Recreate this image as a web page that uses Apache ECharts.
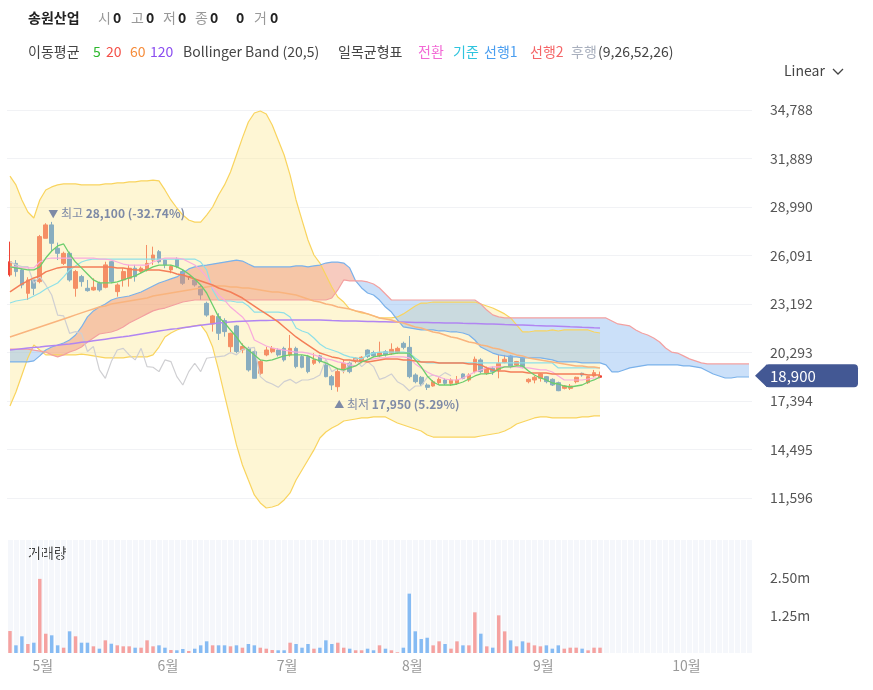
<!DOCTYPE html>
<html>
<head>
<meta charset="utf-8">
<title>송원산업</title>
<script src="https://cdn.jsdelivr.net/npm/echarts@6/dist/echarts.min.js"></script>
<style>
html,body{margin:0;padding:0;background:#fff;}
#chart{width:873px;height:690px;}
</style>
</head>
<body>
<div id="chart"></div>
<script>
// 100 trading days with data + 25 slots ahead for the ichimoku cloud
var dayCount = 125;
var categories = [];
for (var d = 0; d < dayCount; d++) categories.push("D" + d);

var monthTicks = [5, 26, 46, 67, 89, 113];
var monthNames = ["5월", "6월", "7월", "8월", "9월", "10월"];

var priceTicks = {min: 8697, max: 37687, step: 2899};
var volumeTicks = {min: 0, max: 3750000, step: 1250000};

var open = [24930,25620,25230,23830,24630,24530,27120,27920,26520,25620,
	26220,24130,24830,24130,24030,24430,24190,25720,23930,24630,
	24730,25330,25130,25230,25820,26320,25820,25230,25860,25130,
	24830,24630,24230,23230,22000,22440,22200,20640,21880,20450,
	20540,20340,19050,20150,20340,20440,20540,20150,20540,20050,
	20050,19650,20090,19550,18850,18250,19250,19650,19750,19750,
	20440,20290,20090,20340,20250,20290,20840,20600,18950,18810,
	18350,18290,18490,18650,18450,18450,19010,18650,19150,19850,
	19050,19350,19250,19690,20090,19550,19950,18550,18650,18750,
	18850,18690,18490,18150,18150,18550,19050,18490,18890,18810];
var close = [25720,25130,24330,24630,24130,27220,27920,26820,26220,26220,
	24630,25130,24530,23990,24190,24030,25530,24530,24330,25130,
	25330,24830,25330,25620,26120,25720,25530,25430,25430,24430,
	24830,24330,23730,22530,22480,21440,21540,21440,20350,20650,
	19250,18750,19750,20440,20540,20150,19850,20540,19450,19410,
	19150,19850,19750,18850,18350,19150,19650,19150,19950,20010,
	20050,20090,20290,20150,20480,20540,20600,18850,18550,18410,
	18210,18550,18690,18450,18650,18650,18750,18950,19890,19150,
	19350,19150,19650,19890,19450,19750,19450,18690,18810,19010,
	18550,18350,18010,18290,18290,18810,18950,18850,19090,18900];
var low = [24830,24830,24130,23430,23730,24430,27120,26320,25820,25520,
	24530,23630,24230,23930,23990,23930,24130,24430,23630,24230,
	24230,24530,25030,25130,25530,25620,25330,25030,25330,24330,
	24630,24230,23430,22430,21540,21040,21240,20250,20250,20250,
	19150,18750,18950,20070,20250,20050,19750,20050,19350,19350,
	19050,19550,19650,18810,18050,17950,19050,19050,19650,19650,
	19950,20010,20010,20050,20150,20210,20480,18750,18450,18290,
	18050,18250,18350,18350,18290,18350,18690,18550,19050,19050,
	18950,18950,18750,19650,19350,19510,19350,18450,18450,18550,
	18450,18290,17980,18090,18050,18450,18850,18410,18810,18750];
var high = [26920,25820,25330,24790,24630,27320,28020,28100,26860,26320,
	26320,25230,24930,24630,24730,24530,25720,25760,24430,25330,
	25530,25530,25430,26720,26620,26420,25820,25530,25980,25230,
	24870,24730,24330,23330,22540,22640,22340,21480,21940,20840,
	20640,20440,19850,20640,20680,20540,20640,21340,20640,20150,
	20150,20250,20150,19650,18950,19350,19850,19750,20010,20070,
	20480,20400,20940,20440,20840,20640,20940,21280,19050,18890,
	18450,18650,18810,18750,18750,18890,19050,19050,20050,19950,
	19450,19450,20150,20150,20150,19790,20010,18750,18890,19050,
	18890,18750,18550,18350,18410,18850,19090,18890,19250,19150];
var volume = [729000,255000,554000,298000,342000,2460000,640000,587000,255000,176000,
	720000,554000,342000,342000,222000,143000,421000,308000,255000,222000,
	222000,176000,176000,421000,222000,255000,176000,99000,90000,133000,
	66000,143000,255000,388000,255000,255000,255000,222000,255000,176000,
	298000,255000,176000,143000,99000,90000,90000,342000,298000,176000,
	298000,143000,176000,421000,298000,342000,176000,143000,90000,90000,
	143000,90000,255000,143000,90000,23000,176000,1970000,720000,464000,
	507000,254000,387000,298000,144000,387000,254000,254000,1350000,641000,
	221000,177000,1250000,718000,420000,221000,387000,343000,254000,221000,
	254000,144000,254000,144000,177000,177000,144000,88000,177000,177000];

// moving averages
var ma5 = [25410,25350,25290,25230,25230,25410,25940,26360,26660,26780,
	26180,25700,25350,24990,24630,24450,24450,24450,24510,24630,
	24750,24870,25050,25230,25410,25520,25520,25520,25410,25230,
	24990,24690,24330,23850,23130,22420,22060,21640,21220,20740,
	20440,20150,19850,19790,19850,19970,20090,20150,20150,20150,
	20090,19910,19790,19670,19490,19310,19250,19370,19490,19730,
	19850,20030,20090,20150,20200,20260,20260,20260,19850,19430,
	18890,18530,18350,18350,18350,18410,18530,18710,18890,19010,
	19010,19070,19310,19430,19430,19490,19490,19190,18950,18770,
	18650,18470,18410,18290,18230,18290,18350,18530,18650,18830];
var ma20 = [23910,24150,24390,24570,24750,24870,25110,25230,25350,25410,
	25410,25410,25410,25410,25410,25410,25410,25410,25350,25350,
	25290,25230,25230,25230,25230,25230,25170,25110,24990,24930,
	24810,24690,24570,24450,24330,24150,24030,23910,23730,23550,
	23310,23070,22830,22600,22360,22120,21820,21520,21220,20980,
	20740,20500,20260,20150,20030,19970,19850,19850,19790,19790,
	19730,19790,19850,19910,19910,19910,19850,19850,19790,19730,
	19730,19730,19670,19670,19670,19670,19670,19610,19610,19550,
	19370,19250,19190,19190,19130,19130,19130,19070,19070,19070,
	19070,19010,19010,19010,19010,19010,19010,18950,18950,18950];
var ma60 = [21220,21340,21460,21580,21700,21820,21940,22060,22180,22300,
	22420,22540,22660,22780,22890,23010,23070,23190,23250,23310,
	23370,23430,23490,23550,23670,23730,23790,23850,23910,23970,
	24030,24090,24150,24210,24270,24270,24270,24210,24210,24150,
	24150,24090,24030,23970,23910,23910,23850,23790,23730,23610,
	23490,23370,23310,23190,23130,23010,22950,22890,22780,22710,
	22600,22480,22360,22300,22240,22120,22060,21940,21820,21760,
	21640,21520,21460,21340,21220,21160,21040,20920,20860,20740,
	20680,20560,20500,20380,20260,20150,20090,19970,19910,19850,
	19790,19730,19670,19610,19550,19490,19490,19430,19430,19370];
var ma120 = [20440,20480,20520,20560,20590,20620,20660,20700,20730,20770,
	20800,20850,20900,20940,20990,21040,21090,21140,21190,21230,
	21280,21340,21400,21460,21520,21580,21630,21680,21720,21770,
	21820,21870,21920,21970,22010,22060,22080,22110,22140,22160,
	22180,22190,22200,22210,22220,22240,22240,22240,22240,22240,
	22240,22240,22240,22220,22200,22190,22180,22180,22170,22160,
	22150,22140,22130,22130,22120,22120,22110,22100,22090,22080,
	22080,22070,22070,22060,22060,22060,22040,22030,22020,22010,
	22000,21990,21980,21960,21950,21940,21930,21920,21900,21890,
	21880,21870,21860,21850,21830,21820,21800,21790,21770,21760];

// bollinger band (20,5)
var bbUpper = [30840,30310,29410,28690,28330,29410,30010,30190,30310,30370,
	30370,30370,30310,30310,30310,30310,30370,30370,30430,30430,
	30490,30490,30550,30550,30600,30550,30010,29410,28930,28510,
	28210,28090,28090,28510,28990,29710,30310,31080,32100,33120,
	34070,34610,34730,34550,33890,33000,32100,30900,29410,28210,
	27020,26120,25640,24930,24210,23610,23310,22890,22780,22660,
	22600,22480,22360,22360,22360,22420,22600,22830,23070,23250,
	23250,23310,23310,23310,23310,23310,23310,23310,23310,23190,
	23070,22950,22780,22600,22360,21940,21520,21520,21580,21580,
	21580,21640,21580,21640,21640,21640,21640,21640,21520,21460];
var bbLower = [17100,17930,18950,19970,20740,20440,20150,20150,20150,20150,
	20150,20150,20200,20150,20090,20030,19970,19970,19970,19970,
	20030,20030,20030,20030,20150,20620,21220,21460,21640,21760,
	21820,21880,21940,21460,20620,19250,17750,16260,14770,13570,
	12670,11780,11300,11000,11060,11180,11480,11900,12670,13270,
	13870,14470,15180,15540,15780,15960,16200,16260,16320,16380,
	16380,16440,16440,16440,16260,16080,15960,15840,15720,15600,
	15360,15240,15240,15240,15240,15240,15240,15240,15240,15300,
	15360,15420,15480,15600,15780,16020,16140,16260,16380,16440,
	16440,16380,16380,16380,16380,16380,16440,16440,16500,16500];

// ichimoku (9,26,52,26)
var tenkan = [25410,25410,25350,25350,25350,25700,25880,25940,25940,25940,
	25940,25940,25940,25940,25940,25880,25880,25820,25700,25580,
	25520,25520,25520,25520,25700,25820,25940,25940,25940,25880,
	25700,25520,25230,24810,24150,23730,23430,23010,22710,22420,
	21940,21040,20860,20680,20560,20500,20440,20380,20320,20320,
	20260,20150,20030,19910,19850,19730,19670,19550,19490,19730,
	19850,19910,19970,19970,20030,20030,20030,19970,19610,19370,
	19130,18950,18830,18710,18650,18650,18770,18950,19130,19250,
	19370,19430,19430,19430,19430,19430,19370,19370,19310,19250,
	19250,19130,18890,18650,18650,18650,18650,18710,18770,18770];
var kijun = [23250,23370,23430,23490,23670,23850,24090,24270,24450,24810,
	25230,25470,25700,25820,25880,25880,25880,25880,25880,25880,
	25880,25880,25880,25880,25880,25880,25880,25880,25880,25880,
	25880,25880,25700,25230,24030,23430,23370,23370,23310,23310,
	23070,22710,22710,22710,22710,22710,22660,22420,21760,21580,
	21460,21160,20800,20560,20440,20320,20150,20030,19970,19910,
	20150,20260,20320,20320,20320,20320,20320,20260,19970,19730,
	19670,19670,19670,19670,19670,19670,19670,19670,19670,19670,
	19670,19670,19670,19670,19670,19670,19670,19670,19670,19670,
	19670,19670,19370,19370,19370,19370,19370,19370,19370,19370];
var span1 = [19730,19730,19730,19730,19790,20090,20440,20620,20740,20860,
	21040,21340,21820,22420,22780,23010,23190,23430,23550,23610,
	23670,23790,23910,24090,24270,24450,24570,24690,24810,25050,
	25290,25410,25470,25520,25580,25640,25700,25760,25820,25760,
	25580,25410,25410,25410,25410,25410,25410,25410,25470,25470,
	25410,25470,25520,25640,25700,25700,25640,25350,24570,24150,
	23850,23730,23430,23010,22710,22240,21820,21760,21700,21640,
	21640,21640,21580,21580,21520,21520,21460,21340,21040,20620,
	20440,20260,20150,20090,20030,20030,19970,19970,19970,19970,
	19910,19850,19730,19730,19730,19730,19670,19670,19670,19670,
	19550,19130,19130,19250,19370,19430,19490,19550,19550,19550,
	19550,19550,19550,19490,19490,19430,19370,19190,19010,18890,
	18770,18770,18830,18830,18830];
var span2 = [20500,20500,20500,20500,20440,20380,20320,20150,20030,20150,
	20320,20440,20620,20920,21160,21400,21460,21520,21640,21820,
	22060,22240,22420,22600,22780,22890,22950,23070,23190,23310,
	23370,23430,23430,23430,23430,23430,23430,23430,23430,23430,
	23430,23430,23430,23430,23430,23430,23430,23430,23430,23430,
	23430,23430,23430,23430,23550,24030,24630,24570,24570,24570,
	24510,24390,24150,23790,23430,23430,23430,23430,23430,23430,
	23430,23430,23430,23430,23430,23430,23430,23430,23430,23190,
	22830,22540,22420,22360,22360,22360,22360,22360,22360,22360,
	22360,22360,22360,22360,22360,22360,22360,22360,22360,22360,
	22360,22180,22000,21940,21880,21640,21460,21340,21160,20920,
	20560,20320,20260,20090,19910,19790,19670,19610,19610,19610,
	19610,19610,19610,19610,19610];
var chikou = [25720,25530,25430,25430,24430,24830,24330,23730,22530,22480,
	21440,21540,21440,20350,20650,19250,18750,19750,20440,20540,
	20150,19850,20540,19450,19410,19150,19850,19750,18850,18350,
	19150,19650,19150,19950,20010,20050,20090,20290,20150,20480,
	20540,20600,18850,18550,18410,18210,18550,18690,18450,18650,
	18650,18750,18950,19890,19150,19350,19150,19650,19890,19450,
	19750,19450,18690,18810,19010,18550,18350,18010,18290,18290,
	18810,18950,18850,19090,18900];

var lastClose = close[close.length - 1];
var fontFamily = "'Noto Sans CJK KR', 'Noto Sans', sans-serif";
var upColor = "#ef4436", downColor = "#2a7bd9";

// rows the library needs
var candleData = [], volumeData = [];
var bbWidth = [], cloudLow = [], cloudRed = [], cloudBlue = [];
open.map(function(o, i){
	candleData.push([o, close[i], low[i], high[i]]);
	volumeData.push({
		value: volume[i],
		itemStyle: {color: close[i] >= o ? "#f5a2a0" : "#86bbf3"}
	});
	bbWidth.push(bbUpper[i] - bbLower[i]);
});
span1.map(function(a, i){
	var b = span2[i];
	cloudLow.push(Math.min(a, b));
	cloudRed.push(a > b ? a - b : 0);
	cloudBlue.push(b > a ? b - a : 0);
});

function line(name, data, color, width){
	return {
		name: name, type: "line", data: data, xAxisIndex: 0, yAxisIndex: 0,
		symbol: "none", silent: true,
		lineStyle: {color: color, width: width || 1.2}
	};
}
function fill(name, data, stack, color){
	return {
		name: name, type: "line", data: data, stack: stack, xAxisIndex: 0, yAxisIndex: 0,
		symbol: "none", silent: true,
		lineStyle: {width: 0, opacity: 0},
		areaStyle: color ? {color: color, opacity: 1} : null
	};
}

function txt(x, y, s, color, bold, size){
	return {
		type: "text", x: x, y: y, silent: true,
		style: {
			text: s, fill: color, verticalAlign: "middle",
			font: (bold ? "bold " : "") + (size || 14) + "px " + fontFamily
		}
	};
}

var headerGraphics = [
	txt(28, 18, "송원산업", "#222", true),
	txt(98, 18, "시", "#999"), txt(113, 18, "0", "#222", true),
	txt(131, 18, "고", "#999"), txt(146, 18, "0", "#222", true),
	txt(163, 18, "저", "#999"), txt(178, 18, "0", "#222", true),
	txt(195, 18, "종", "#999"), txt(210, 18, "0", "#222", true),
	txt(236, 18, "0", "#222", true),
	txt(254, 18, "거", "#999"), txt(270, 18, "0", "#222", true),
	txt(28, 52, "이동평균", "#444"),
	txt(93, 52, "5", "#2db82d"),
	txt(106, 52, "20", "#f4524a"),
	txt(130, 52, "60", "#f68d3c"),
	txt(150, 52, "120", "#8b4ef0"),
	txt(183, 52, "Bollinger Band (20,5)", "#444"),
	txt(338, 52, "일목균형표", "#444"),
	txt(418, 52, "전환", "#f26ad5"),
	txt(453, 52, "기준", "#2fc4de"),
	txt(484, 52, "선행1", "#4a9ef0"),
	txt(530, 52, "선행2", "#f56668"),
	txt(571, 52, "후행", "#a8afbd"),
	txt(598, 52, "(9,26,52,26)", "#444"),
	txt(784, 71, "Linear", "#444"),
	{type: "polyline", silent: true, shape: {points: [[833, 69], [838, 74], [843, 69]]},
		style: {stroke: "#444", lineWidth: 1.3, fill: null}},
	txt(28, 553, "거래량", "#444")
];

function extremeLabel(arrow, word){
	return {
		show: true, position: "right",
		formatter: function(p){
			var pct = ((lastClose - p.value) / p.value * 100).toFixed(2);
			return "{i|" + arrow + "}{a| " + word + " }{b|" + p.value.toLocaleString("en-US") + " (" + pct + "%)}";
		},
		rich: {
			i: {fontSize: 10, color: "#7e8aa6", fontFamily: fontFamily},
			a: {fontSize: 12, color: "#7e8aa6", fontFamily: fontFamily},
			b: {fontSize: 12, color: "#7e8aa6", fontWeight: "bold", fontFamily: fontFamily}
		}
	};
}

var priceSplitColors = [];
for (var k = priceTicks.min; k <= priceTicks.max; k += priceTicks.step) {
	priceSplitColors.push(k === priceTicks.min || k === priceTicks.max ? "rgba(0,0,0,0)" : "#f1f2f5");
}

var option = {
	animation: false,
	backgroundColor: "#fff",
	textStyle: {fontFamily: fontFamily},
	grid: [
		{left: 7, top: 61.5, width: 745, height: 485, outerBoundsMode: "none"},
		{left: 7, top: 540, width: 745, height: 113, show: true, backgroundColor: "#f5f7fb", borderWidth: 0, outerBoundsMode: "none"}
	],
	xAxis: [{
		type: "category", gridIndex: 0, data: categories, boundaryGap: true,
		axisLine: {show: false}, axisTick: {show: false}, axisLabel: {show: false}, splitLine: {show: false}
	}, {
		type: "category", gridIndex: 1, data: categories, boundaryGap: true,
		axisLine: {show: false}, axisTick: {show: false},
		splitLine: {show: true, interval: 0, lineStyle: {color: "#fff", width: 1}},
		axisLabel: {
			color: "#999", fontSize: 14, margin: 6, padding: [0, 0, 0, 6],
			interval: function(i){ return monthTicks.indexOf(i) >= 0; },
			formatter: function(v, i){ var m = monthTicks.indexOf(i); return m >= 0 ? monthNames[m] : ""; }
		}
	}],
	yAxis: [{
		type: "value", gridIndex: 0, position: "right", scale: true,
		min: priceTicks.min, max: priceTicks.max, interval: priceTicks.step,
		axisLine: {show: false}, axisTick: {show: false},
		axisLabel: {
			color: "#555", fontSize: 14, margin: 18, showMinLabel: false, showMaxLabel: false,
			formatter: function(v){ return v.toLocaleString("en-US"); }
		},
		splitLine: {show: true, lineStyle: {color: priceSplitColors, width: 1}}
	}, {
		type: "value", gridIndex: 1, position: "right",
		min: volumeTicks.min, max: volumeTicks.max, interval: volumeTicks.step,
		axisLine: {show: false}, axisTick: {show: false}, splitLine: {show: false},
		axisLabel: {
			color: "#555", fontSize: 14, margin: 18, showMinLabel: false, showMaxLabel: false,
			formatter: function(v){ return (v / 1000000).toFixed(2) + "m"; }
		}
	}],
	series: [
		fill("bbBase", bbLower, "bb", null),
		fill("bbBand", bbWidth, "bb", "rgba(252,234,160,0.45)"),
		fill("cloudBase", cloudLow, "cloud", null),
		fill("cloudUp", cloudRed, "cloud", "rgba(238,139,113,0.45)"),
		fill("cloudDown", cloudBlue, "cloud", "rgba(125,178,240,0.4)"),
		line("bbUpper", bbUpper, "#f9d45e", 1.2),
		line("bbLower", bbLower, "#f9d45e", 1.2),
		line("선행1", span1, "#7ab1ea", 1.2),
		line("선행2", span2, "#f3a0a0", 1.2),
		line("후행", chikou, "#cfcfd2", 1.2),
		line("기준", kijun, "#8ee0e8", 1.2),
		line("전환", tenkan, "#f9aadd", 1.2),
		line("MA120", ma120, "#b185f2", 1.5),
		line("MA60", ma60, "#f9b47e", 1.5),
		line("MA20", ma20, "#f47e58", 1.5),
		line("MA5", ma5, "#6ccd6c", 1.3),
		{
			name: "송원산업", type: "candlestick", data: candleData, xAxisIndex: 0, yAxisIndex: 0,
			barWidth: "70%",
			itemStyle: {
				color: upColor, color0: downColor,
				borderColor: upColor, borderColor0: downColor, borderColorDoji: "#333",
				borderWidth: 1
			},
			markPoint: {
				symbol: "circle", symbolSize: 1, silent: true,
				itemStyle: {color: "rgba(0,0,0,0)"},
				data: [
					{type: "max", valueDim: "highest", label: Object.assign(extremeLabel("▼", "최고"), {offset: [-9, -8]})},
					{type: "min", valueDim: "lowest", label: Object.assign(extremeLabel("▲", "최저"), {offset: [-9, 13]})}
				]
			}
		},
		{
			name: "거래량", type: "bar", data: volumeData, xAxisIndex: 1, yAxisIndex: 1,
			barWidth: "58%", silent: true
		}
	],
	graphic: headerGraphics
};

var chart = echarts.init(document.getElementById("chart"));
chart.setOption(option);

// price tag for the last close, placed through the price axis
var tagY = chart.convertToPixel({yAxisIndex: 0}, lastClose);
option.graphic = headerGraphics.concat([
	{type: "polygon", silent: true, shape: {points: [[755, tagY], [767, tagY - 11.5], [767, tagY + 11.5]]},
		style: {fill: "#435894"}},
	{type: "rect", silent: true, shape: {x: 765, y: tagY - 11.5, width: 93, height: 23, r: 4},
		style: {fill: "#435894"}},
	txt(770, tagY + 0.5, lastClose.toLocaleString("en-US"), "#fff", false, 15)
]);
chart.setOption(option, true);
</script>
</body>
</html>
